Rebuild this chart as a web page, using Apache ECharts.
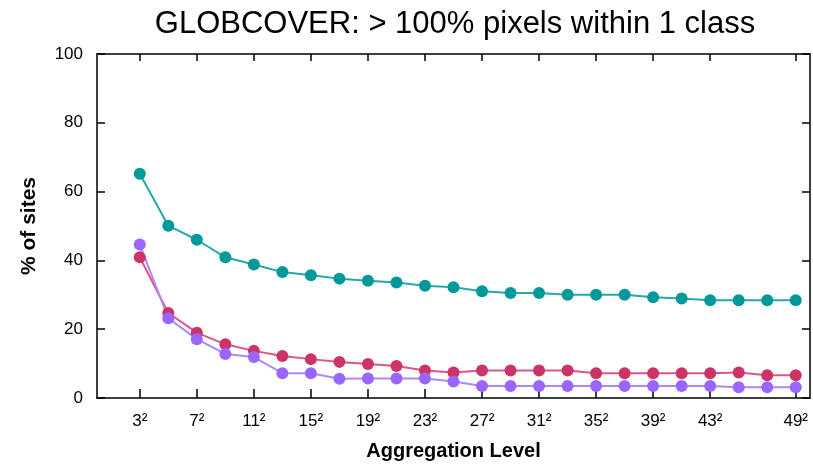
<!DOCTYPE html>
<html>
<head>
<meta charset="utf-8">
<script src="https://cdn.jsdelivr.net/npm/echarts@6/dist/echarts.min.js"></script>
<style>html,body{margin:0;padding:0;background:#fff;}#c{width:813px;height:468px;}</style>
</head>
<body>
<div id="c"></div>
<script>
const levels = [3,5,7,9,11,13,15,17,19,21,23,25,27,29,31,33,35,37,39,41,43,45,47,49];
const tickLevels = [3,7,11,15,19,23,27,31,35,39,43,49];
const yTicks = [0,20,40,60,80,100];
const tealVals = [65.2,50.1,46.0,40.9,38.8,36.6,35.7,34.7,34.1,33.6,32.6,32.2,31.0,30.5,30.5,30.0,30.0,30.0,29.3,28.9,28.4,28.4,28.4,28.4];
const redVals = [40.9,24.7,19.0,15.6,13.7,12.2,11.3,10.5,9.9,9.3,8.0,7.4,8.0,8.0,8.0,8.0,7.2,7.2,7.2,7.2,7.2,7.4,6.6,6.6];
const purpleVals = [44.6,23.2,17.1,12.8,11.9,7.2,7.2,5.6,5.7,5.7,5.7,4.8,3.5,3.5,3.5,3.5,3.5,3.5,3.5,3.5,3.5,3.1,3.1,3.1];

function pairs(vals){ return levels.map((l,i)=>[l, vals[i]]); }

const font = 'Liberation Sans, Arial, sans-serif';
const chart = echarts.init(document.getElementById('c'), null, {renderer:'canvas'});
const lineSt = {color:'#000', width:1.5};
function mkSeries(vals, mc, lc){
  return {type:'line', data:pairs(vals), symbol:'circle', symbolSize:12,
    itemStyle:{color:mc}, lineStyle:{color:lc, width:2}, animation:false};
}
chart.setOption({
  animation:false,
  title:{text:'GLOBCOVER: > 100% pixels within 1 class', left:450, textAlign:'center', top:4,
    textStyle:{fontFamily:font, fontSize:31, fontWeight:'normal', color:'#000'}},
  grid:{left:97, right:3, top:54, bottom:70},
  xAxis:[{type:'value', min:0, max:50, position:'bottom',
    name:'Aggregation Level', nameLocation:'middle', nameGap:43,
    nameTextStyle:{fontFamily:font, fontSize:20, fontWeight:'bold', color:'#000'},
    axisLine:{show:true, onZero:false, lineStyle:lineSt}, splitLine:{show:false},
    axisTick:{inside:true, length:9, customValues:tickLevels, lineStyle:lineSt},
    axisLabel:{customValues:tickLevels, formatter:v=>v+'²', fontFamily:font, fontSize:17, color:'#000', margin:15}},
   {type:'value', min:0, max:50, position:'top',
    axisLine:{show:true, onZero:false, lineStyle:lineSt}, splitLine:{show:false},
    axisTick:{inside:true, length:7, customValues:tickLevels, lineStyle:lineSt},
    axisLabel:{show:false}}],
  yAxis:[{type:'value', min:0, max:100, interval:20, position:'left',
    name:'% of sites', nameLocation:'middle', nameGap:57,
    nameTextStyle:{fontFamily:font, fontSize:21, fontWeight:'bold', color:'#000'},
    axisLine:{show:true, onZero:false, lineStyle:lineSt}, splitLine:{show:false},
    axisTick:{inside:true, length:8, lineStyle:lineSt},
    axisLabel:{fontFamily:font, fontSize:17, color:'#000', margin:14}},
   {type:'value', min:0, max:100, interval:20, position:'right',
    axisLine:{show:true, onZero:false, lineStyle:lineSt}, splitLine:{show:false},
    axisTick:{inside:true, length:8, lineStyle:lineSt},
    axisLabel:{show:false}}],
  series:[
    mkSeries(tealVals, '#009999', '#22aaaa'),
    mkSeries(redVals, '#cc3366', '#dd5588'),
    mkSeries(purpleVals, '#9966ff', '#aa88ff')
  ]
});
</script>
</body>
</html>
